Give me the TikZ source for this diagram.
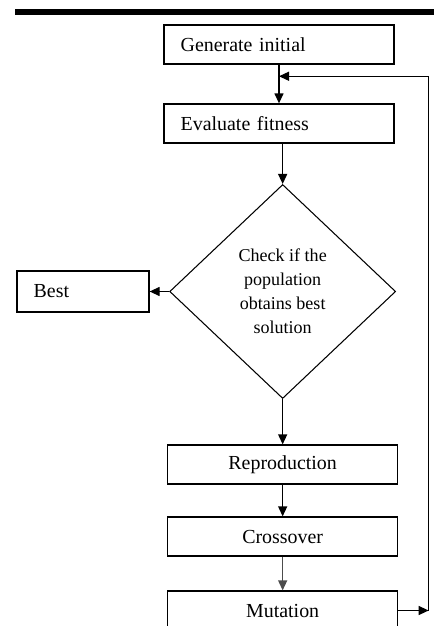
\documentclass[tikz,border=0pt]{standalone}
\usepackage{fontspec}
\setmainfont{Liberation Serif}
\usetikzlibrary{arrows.meta,shapes.geometric,calc}

\begin{document}
\begin{tikzpicture}[
  b/.style={rectangle,draw,line width=1.1pt,minimum width=6.9cm,minimum height=1.17cm,font=\fontsize{17}{20}\selectfont},
  bl/.style={b,text width=5.9cm,align=left,inner xsep=0.5cm},
  d/.style={diamond,draw,line width=0.9pt,minimum width=6.78cm,minimum height=6.42cm,inner sep=0pt,align=center,font=\fontsize{15.4}{20.5}\selectfont},
  a/.style={-{Triangle[length=0.3cm,width=0.27cm]},line width=1.1pt}
]
  \useasboundingbox (0,0) rectangle (13.02,-18.78);
  \fill (0.45,-0.27) rectangle (13.02,-0.45);
  \node[bl] (gen) at (8.37,-1.335) {Generate initial};
  \node[bl] (eval) at (8.37,-3.705) {Evaluate fitness};
  \node[d] (chk) at (8.48,-8.745) {Check if the\\population\\obtains best\\solution};
  \node[bl,minimum width=3.96cm,text width=2.96cm,minimum height=1.23cm] (best) at (2.49,-8.745) {Best};
  \node[b] (rep) at (8.48,-13.935) {Reproduction};
  \node[b] (cross) at (8.48,-16.095) {Crossover};
  \node[b] (mut) at (8.48,-18.315) {Mutation};
  \coordinate (join) at ($(gen.south)!0.3!(eval.north)$);
  \coordinate (corner) at ([xshift=0.91cm]mut.east);
  \draw[a] (gen) -- (eval);
  \draw[a] (eval.south -| chk.north) -- (chk.north);
  \draw[a] (chk) -- (best);
  \draw[a] (chk) -- (rep);
  \draw[a] (rep) -- (cross);
  \draw[a,draw=black!70] (cross) -- (mut);
  \draw[a] (mut.east) -- (corner);
  \draw[a] (corner) |- (join);
\end{tikzpicture}
\end{document}
